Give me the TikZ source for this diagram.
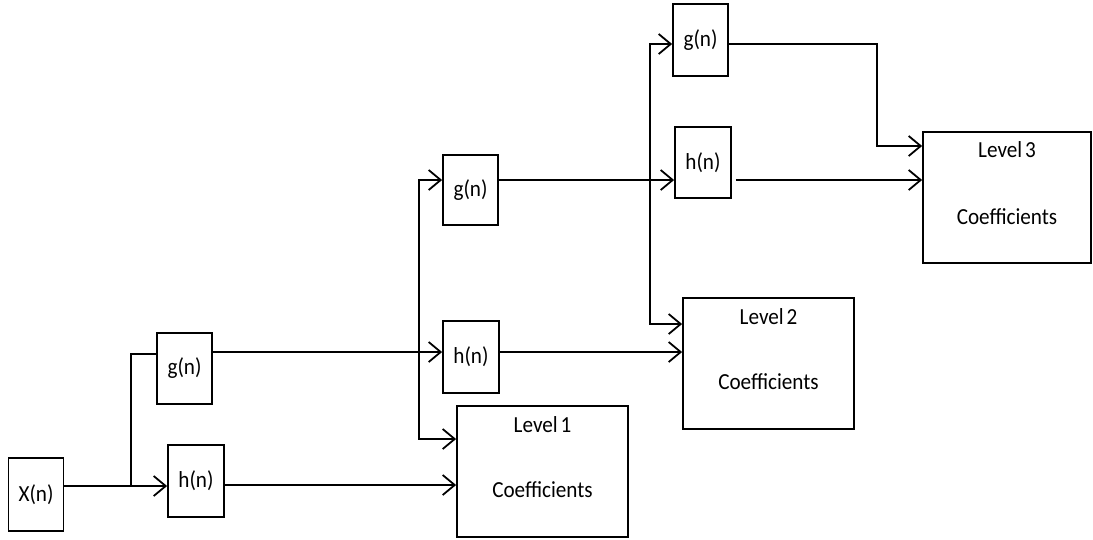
\documentclass[tikz,border=0pt]{standalone}
\usepackage{fontspec}
\setmainfont{Carlito}[FakeStretch=0.92]
\usetikzlibrary{arrows.meta}
\begin{document}
\begin{tikzpicture}[x=1pt,y=-1pt,
  line width=1.8pt,
  font=\fontsize{23}{26}\selectfont,
  filt/.style={draw, inner sep=0pt, minimum width=55pt, minimum height=71pt},
  coef/.style={draw, inner sep=0pt, minimum width=171pt, minimum height=131pt},
  flow/.style={-{Straight Barb[length=12pt,width=20pt]}},
  flow2/.style={{Straight Barb[length=12pt,width=20pt]}-{Straight Barb[length=12pt,width=20pt]}}]
\useasboundingbox (0,0) rectangle (1093,539);

% filter blocks
\node[filt, minimum height=73pt] (X) at (36,494.5) {X(n)};
\node[filt] (g1) at (184.5,368.5) {g(n)};
\node[filt, minimum width=56pt, minimum height=72pt] (h1) at (196,481) {h(n)};
\node[filt, minimum height=70pt] (g2) at (470.5,190) {g(n)};
\node[filt, minimum width=56pt, minimum height=72pt] (h2) at (471,357) {h(n)};
\node[filt, minimum height=72pt] (g3) at (700.5,40) {g(n)};
\node[filt, minimum width=56pt] (h3) at (703,162.5) {h(n)};

% coefficient boxes
\node[coef] (L1) at (542.5,471.5) {};
\node[coef] (L2) at (768.5,363.5) {};
\node[coef, minimum width=168pt] (L3) at (1007,197.5) {};
\node at ([yshift=-19pt]L1.north) {Level\hspace{0.12em}1};
\node at ([yshift=-18.5pt]L1.center) {Coefficients};
\node at ([yshift=-19pt]L2.north) {Level\hspace{0.12em}2};
\node at ([yshift=-18.5pt]L2.center) {Coefficients};
\node at ([yshift=-18pt]L3.north) {Level\hspace{0.12em}3};
\node at ([yshift=-19.5pt]L3.center) {Coefficients};

% junction and bend points
\coordinate (j1) at (131,486);
\coordinate (j1t) at (131,354);
\coordinate (a2) at (419,180);
\coordinate (b2) at (419,439);
\coordinate (a3) at (650,44);
\coordinate (b3) at (650,324);
\coordinate (c3) at (877,44);
\coordinate (d3) at (877,146);
\coordinate (yh1) at (0,485);
\coordinate (yg1) at (0,352);
\coordinate (yh3) at (0,180);

% level 1
\draw (X.east |- j1) -- (j1);
\draw[flow] (j1) -- (h1.west |- j1);
\draw (j1) -- (j1t) -- (g1.west |- j1t);
\draw[flow] (h1.east |- yh1) -- (L1.west |- yh1);
\draw[flow] (g1.east |- yg1) -- (h2.west |- yg1);

% level 2
\draw[flow2] (g2.west |- a2) -- (a2) -- (b2) -- (L1.west |- b2);
\draw[flow] (g2.east |- a2) -- (h3.west |- a2);
\draw[flow] (h2.east |- yg1) -- (L2.west |- yg1);

% level 3
\draw[flow2] (g3.west |- a3) -- (a3) -- (b3) -- (L2.west |- b3);
\draw[flow] (g3.east |- c3) -- (c3) -- (d3) -- (L3.west |- d3);
\draw[flow, shorten <=4pt] (h3.east |- yh3) -- (L3.west |- yh3);
\end{tikzpicture}
\end{document}
